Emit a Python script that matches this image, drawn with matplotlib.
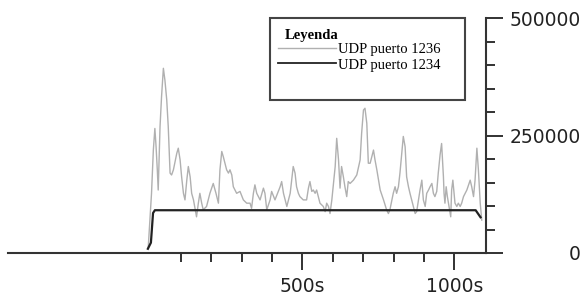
import matplotlib
matplotlib.use("Agg")
import matplotlib.pyplot as plt
from matplotlib.lines import Line2D
from matplotlib.patches import Rectangle

# UDP puerto 1236 (gris)
t_1236 = [-7, 4, 10, 15, 19, 23, 26, 32, 37, 43, 48, 54, 59, 65, 70, 76, 87, 92, 98, 103,
          109, 114, 120, 125, 131, 136, 142, 152, 158, 163, 169, 174, 185, 196, 207, 216, 224,
          229, 235, 240, 251, 257, 262, 268, 273, 284, 295, 306, 317, 328, 333, 339, 344, 350,
          361, 372, 377, 383, 394, 399, 410, 416, 427, 432, 438, 449, 460, 470, 476, 481, 487,
          492, 503, 514, 520, 525, 531, 536, 542, 547, 558, 569, 575, 580, 586, 591, 597, 608,
          613, 619, 624, 629, 635, 640, 646, 651, 657, 668, 679, 690, 695, 701, 706, 712, 717,
          723, 734, 739, 745, 756, 767, 777, 783, 788, 799, 805, 810, 816, 821, 827, 832, 838,
          843, 849, 854, 865, 871, 876, 882, 887, 893, 898, 904, 909, 915, 920, 926, 931, 936,
          942, 947, 953, 958, 964, 966, 969, 973, 977, 984, 988, 991, 995, 999, 1002, 1008,
          1013, 1019, 1024, 1030, 1041, 1052, 1057, 1063, 1068, 1074, 1079, 1085, 1090]
v_1236 = [10000, 127000, 219000, 265000, 226000, 177000, 134000, 269000, 333000, 393000,
          368000, 326000, 269000, 170000, 166000, 177000, 212000, 223000, 198000, 162000,
          127000, 113000, 155000, 184000, 162000, 127000, 113000, 77000, 106000, 127000,
          106000, 92000, 99000, 127000, 148000, 127000, 106000, 177000, 216000, 205000,
          177000, 170000, 177000, 166000, 141000, 127000, 131000, 113000, 106000, 106000,
          95000, 127000, 145000, 127000, 113000, 138000, 127000, 92000, 113000, 131000,
          113000, 123000, 141000, 152000, 127000, 99000, 127000, 184000, 170000, 141000,
          127000, 120000, 113000, 113000, 138000, 152000, 131000, 134000, 127000, 134000,
          106000, 99000, 88000, 106000, 99000, 84000, 113000, 184000, 244000, 198000,
          138000, 184000, 162000, 141000, 120000, 152000, 148000, 155000, 166000, 198000,
          255000, 304000, 308000, 276000, 191000, 191000, 219000, 198000, 177000, 134000,
          113000, 92000, 84000, 92000, 127000, 141000, 127000, 141000, 170000, 212000,
          248000, 226000, 162000, 141000, 127000, 99000, 84000, 88000, 113000, 134000,
          155000, 113000, 99000, 127000, 134000, 141000, 148000, 127000, 120000, 131000,
          170000, 209000, 233000, 162000, 127000, 106000, 141000, 120000, 92000, 77000,
          134000, 155000, 127000, 106000, 99000, 106000, 99000, 106000, 120000, 134000,
          155000, 141000, 120000, 155000, 223000, 177000, 106000, 70000]

# UDP puerto 1234 (negro)
t_1234 = [-8, 2, 9, 15, 1070, 1086]
v_1234 = [9000, 22000, 85000, 91000, 91000, 76000]

x_major = [500, 1000]
x_major_labels = ["500s", "1000s"]
x_minor = [100, 200, 300, 400, 600, 700, 800, 900]
y_major = [0, 250000, 500000]
y_minor = [50000, 100000, 150000, 200000, 300000, 350000, 400000, 450000]

fig = plt.figure(figsize=(5.8, 3.0), dpi=100)
ax = fig.add_axes([8 / 580, 1 - 253 / 300, 478 / 580, 235 / 300])

ax.plot(t_1236, v_1236, color="#b0b0b0", lw=1.0)
ax.plot(t_1234, v_1234, color="#222222", lw=1.6)

ax.set_xlim(-468, 1104)
ax.set_ylim(0, 500000)

for s in ["top", "left"]:
    ax.spines[s].set_visible(False)
for s in ["bottom", "right"]:
    ax.spines[s].set_color("#333333")
    ax.spines[s].set_linewidth(1.5)

ax.yaxis.tick_right()
ax.set_xticks(x_major)
ax.set_xticklabels(x_major_labels)
ax.set_xticks(x_minor, minor=True)
ax.set_yticks(y_major)
ax.set_yticklabels([str(v) for v in y_major])
ax.set_yticks(y_minor, minor=True)

ax.tick_params(which="major", length=12, width=1.3, color="#222222",
               labelsize=13.5, labelcolor="#222222")
ax.tick_params(which="minor", length=6.5, width=1.3, color="#222222")
ax.tick_params(axis="x", which="major", pad=5)
ax.tick_params(axis="y", which="major", pad=56)
for lab in ax.get_yticklabels():
    lab.set_horizontalalignment("right")

# legend box
fig.patches.append(Rectangle((270 / 580, 1 - 100 / 300), 195 / 580, 82 / 300,
                             transform=fig.transFigure, fill=False,
                             edgecolor="#444444", lw=1.5))
fig.text(285 / 580, 1 - 35 / 300, "Leyenda", family="Liberation Serif",
         fontweight="bold", fontsize=10.5, va="center", ha="left")
handles = [Line2D([], [], color="#b0b0b0", lw=1.0),
           Line2D([], [], color="#222222", lw=1.3)]
fig.legend(handles, ["UDP puerto 1236", "UDP puerto 1234"],
           loc="upper left", bbox_to_anchor=(278 / 580, 1 - 43 / 300),
           frameon=False, borderpad=0, borderaxespad=0, handlelength=4.0,
           handletextpad=0.1, labelspacing=0.15,
           prop={"family": "Liberation Serif", "size": 10.5})

fig.savefig("out.png", dpi=100)
